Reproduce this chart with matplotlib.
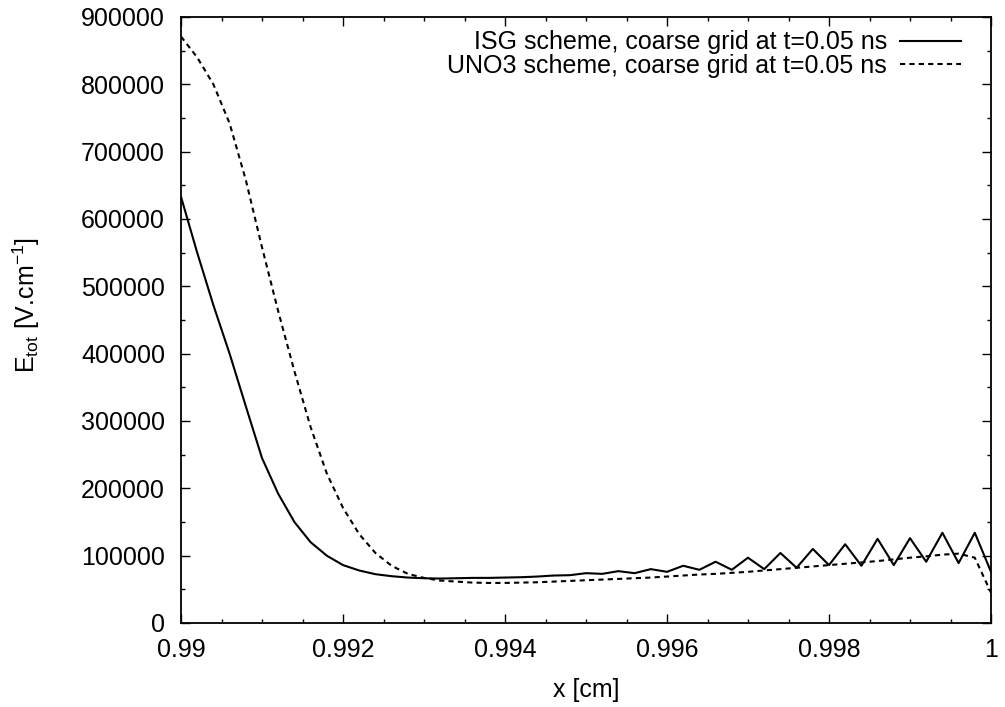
import numpy as np
import matplotlib
matplotlib.use("Agg")
import matplotlib.pyplot as plt
from matplotlib.ticker import MultipleLocator, FuncFormatter

# coarse grid: 0.99 .. 1.0, step 0.0002 (51 points)
x = np.linspace(0.99, 1.0, 51)

# ISG scheme (V/cm)
isg = [633000, 550000, 472000, 400000, 322000, 245000, 192000, 150000, 120000, 100000,
       86000, 78000, 72500, 69500, 67500, 66500, 66000, 66500, 67000, 67000,
       67500, 68000, 69000, 70500, 71000, 74000, 73000, 77000, 74000, 80000,
       76000, 85000, 79000, 91000, 79000, 97000, 80000, 104000, 82000, 110000,
       86000, 117000, 85000, 125000, 86000, 126000, 91000, 134000, 89000, 134000,
       76000]

# UNO3 scheme
uno3 = [871000, 840000, 800000, 742000, 658000, 558000, 463000, 374000, 291000, 222000,
        171000, 132000, 104000, 85000, 73000, 67000, 63000, 61500, 60000, 59500,
        59500, 60000, 60500, 61500, 62500, 63500, 64500, 65500, 66500, 67500,
        69000, 70500, 72000, 73000, 74500, 76000, 78000, 80000, 82000, 84000,
        86000, 88000, 90000, 92000, 94500, 97000, 99000, 101500, 103000, 97000,
        45000]

plt.rcParams['font.family'] = ['Liberation Sans', 'DejaVu Sans']
plt.rcParams['font.size'] = 18

fig = plt.figure(figsize=(10.05, 7.07), dpi=100)
ax = fig.add_axes([181/1005, 1-623/707, 810/1005, 606/707])

ax.plot(x, isg, color='black', lw=1.5, label='ISG scheme, coarse grid at t=0.05 ns')
ax.plot(x, uno3, color='black', lw=1.5, dashes=(2.5, 2),
        label='UNO3 scheme, coarse grid at t=0.05 ns')

ax.set_xlim(0.99, 1.0)
ax.set_ylim(0, 900000)
ax.xaxis.set_major_locator(MultipleLocator(0.002))
ax.xaxis.set_minor_locator(MultipleLocator(0.0005))
ax.yaxis.set_major_locator(MultipleLocator(100000))
ax.yaxis.set_minor_locator(MultipleLocator(50000))
ax.xaxis.set_major_formatter(FuncFormatter(lambda v, p: '%g' % round(v, 4)))
ax.yaxis.set_major_formatter(FuncFormatter(lambda v, p: '%d' % v))
ax.tick_params(which='both', direction='in', top=True, right=True, width=1)
ax.tick_params(which='major', length=6.5)
ax.tick_params(which='minor', length=3)
ax.tick_params(axis='y', which='major', pad=11.5)
ax.tick_params(axis='x', which='major', pad=11)
for s in ax.spines.values():
    s.set_linewidth(1.3)

ax.set_xlabel('x [cm]')
ax.xaxis.set_label_coords(0.5, (623-678)/606)
ax.set_ylabel(r'E$_{\mathregular{tot}}$ [V.cm$^{\mathregular{-1}}$]')
ax.yaxis.set_label_coords((42-181)/810, 0.525)

ax.legend(loc='upper right', bbox_to_anchor=((961-181)/810, 0.978), frameon=False,
          markerfirst=False, handlelength=2.45, handletextpad=0.52,
          labelspacing=-0.02, borderpad=0, borderaxespad=0)

fig.savefig('out.png', dpi=100)
